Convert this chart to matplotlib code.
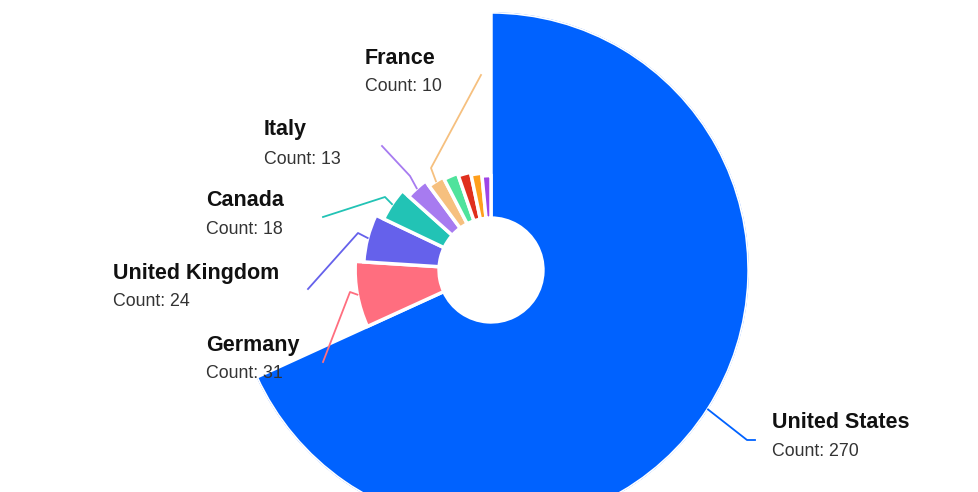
import numpy as np
import matplotlib
matplotlib.use("Agg")
import matplotlib.pyplot as plt
from matplotlib.lines import Line2D

countries = ['United States', 'Germany', 'United Kingdom', 'Canada', 'Italy', 'France',
             'Other A', 'Other B', 'Other C', 'Other D']
counts = np.array([270, 31, 24, 18, 13, 10, 9, 8, 7, 6])
colors = ['#0062FF', '#FF6E7F', '#6561EB', '#22C3B5', '#A77BF0', '#F6C07F',
          '#4FE39C', '#E0301E', '#FF9F1C', '#9F45E6']

# label layout (pixel positions of text + leader line elbow/end), only first six labelled
label_xy = [(772, 422), (206, 345), (113, 273), (206, 201), (264, 130), (365, 58)]
line_pts = [[(747, 440), (755, 440)],
            [(350, 292), (323, 362)],
            [(358, 233), (308, 289)],
            [(385, 197), (323, 217)],
            [(410, 176), (382, 146)],
            [(431, 168), (481, 75)]]

W, H = 979, 492
fig = plt.figure(figsize=(W / 100, H / 100), dpi=100)
plt.rcParams['font.family'] = ['Liberation Sans', 'DejaVu Sans']

cx, cy, R = 491, 270, 258
ax = fig.add_axes([(cx - R) / W, 1 - (cy + R) / H, 2 * R / W, 2 * R / H], projection='polar')
ax.set_theta_zero_location('N')
ax.set_theta_direction(-1)

widths = counts / counts.sum() * 2 * np.pi
starts = np.concatenate([[0], np.cumsum(widths)[:-1]])
hole = 0.252
radial = (counts / counts.max()) ** 0.415
ax.bar(starts, radial, width=widths, bottom=hole, align='edge',
       color=colors, edgecolor='white', linewidth=2.5)
ax.set_ylim(0, hole + 1)
ax.set_axis_off()

to_fig = fig.transFigure.inverted()
for i, name in enumerate(countries[:6]):
    mid = starts[i] + widths[i] / 2
    p0 = to_fig.transform(ax.transData.transform((mid, hole + radial[i])))
    xs = [p0[0]] + [p[0] / W for p in line_pts[i]]
    ys = [p0[1]] + [1 - p[1] / H for p in line_pts[i]]
    fig.add_artist(Line2D(xs, ys, color=colors[i], lw=1.3, transform=fig.transFigure))
    tx, ty = label_xy[i]
    fig.text(tx / W, 1 - ty / H, name, fontsize=15.5, fontweight='bold',
             color='#111111', va='center', ha='left')
    fig.text(tx / W, 1 - (ty + 29) / H, f'Count: {counts[i]}', fontsize=12.8,
             color='#333333', va='center', ha='left')

fig.savefig('out.png', dpi=100)
